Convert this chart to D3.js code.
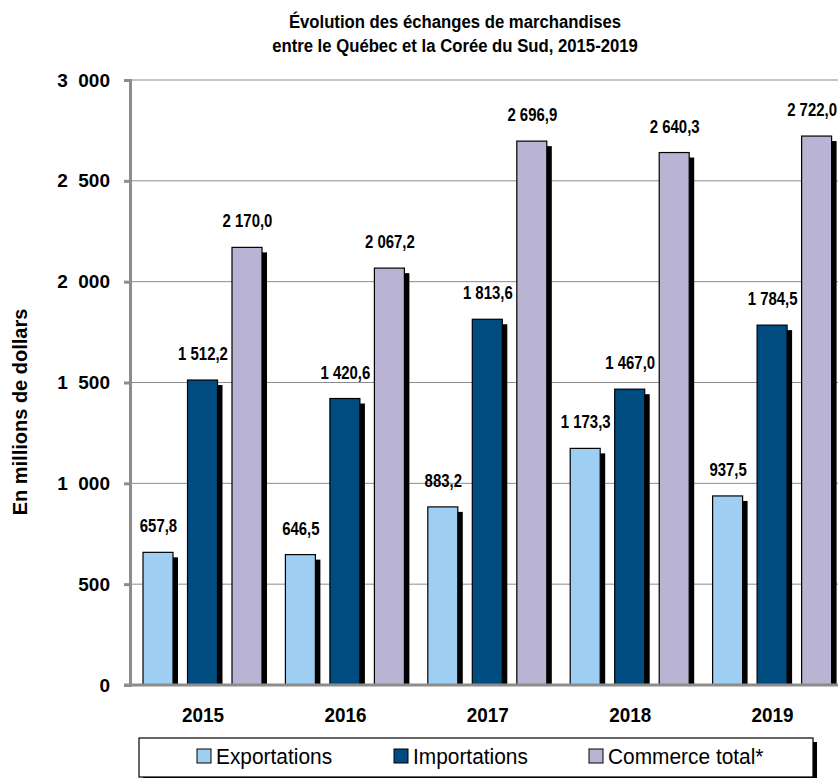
<!DOCTYPE html>
<html>
<head>
<meta charset="utf-8">
<script src="https://cdn.jsdelivr.net/npm/d3@7"></script>
<style>
  body { margin: 0; background: #fff; }
  svg text { font-family: "Liberation Sans", Arial, sans-serif; fill: #000; }
</style>
</head>
<body>
<svg id="chart" width="838" height="778"></svg>
<script>
var years = ['2015', '2016', '2017', '2018', '2019'];
var seriesNames = ['Exportations', 'Importations', 'Commerce total*'];
var exportations = [657.8, 646.5, 883.2, 1173.3, 937.5];
var importations = [1512.2, 1420.6, 1813.6, 1467.0, 1784.5];
var commerceTotal = [2170.0, 2067.2, 2696.9, 2640.3, 2722.0];
var yTicks = [0, 500, 1000, 1500, 2000, 2500, 3000];
var colors = ['#9ecff2', '#004b80', '#b9b3d4'];

(function(){
    var svg = d3.select('#chart'),
        width = +svg.attr('width'),
        left = 130, right = 842, top = 80, bottom = 685,
        labelScale = 0.83;

    var values = [exportations, importations, commerceTotal];

    var x = d3.scaleBand().domain(years).range([left, right]).paddingInner(0).paddingOuter(0);
    var inner = d3.scaleBand().domain(seriesNames).range([13, 132]).paddingInner(0.326).paddingOuter(0);
    var y = d3.scaleLinear().domain([0, 3000]).range([bottom, top]);

    var frNum = function(v, dec) {
        var s = d3.format(',.' + dec + 'f')(v);
        return s.replace(/,/g, '\u00a0').replace('.', ',');
    };

    // title
    var title = svg.append('g').attr('transform', 'translate(455,0) scale(0.88,1)');
    title.append('text').attr('x', 0).attr('y', 28).attr('text-anchor', 'middle')
        .style('font-size', '19px').style('font-weight', 'bold')
        .text('Évolution des échanges de marchandises');
    title.append('text').attr('x', 0).attr('y', 52).attr('text-anchor', 'middle')
        .style('font-size', '19px').style('font-weight', 'bold')
        .text('entre le Québec et la Corée du Sud, 2015-2019');

    // gridlines
    svg.append('g').selectAll('line')
        .data(yTicks.filter(function(d) { return d > 0; }))
        .enter().append('line')
        .attr('x1', left).attr('x2', right)
        .attr('y1', function(d) { return y(d); })
        .attr('y2', function(d) { return y(d); })
        .attr('stroke', '#8c8c8c').attr('stroke-width', 1);

    // y axis
    var yAxis = d3.axisLeft(y).tickValues(yTicks).tickSize(6).tickPadding(14)
        .tickFormat(function(d) { return d >= 1000 ? frNum(d, 0).replace('\u00a0', '\u00a0\u00a0') : d; });
    var ya = svg.append('g').attr('transform', 'translate(' + left + ',0)').call(yAxis);
    ya.select('.domain').attr('stroke', '#8c8c8c').attr('stroke-width', 3);
    ya.selectAll('.tick line').attr('stroke', '#8c8c8c').attr('stroke-width', 3);
    ya.selectAll('.tick text').style('font-size', '19px').style('font-weight', 'bold')
        .style('font-family', null).attr('fill', '#000');

    // bars
    var groups = svg.append('g').selectAll('g')
        .data(years)
        .enter().append('g')
        .attr('transform', function(d) { return 'translate(' + x(d) + ',0)'; });

    var bars = groups.selectAll('g')
        .data(function(d, i) {
            return seriesNames.map(function(s, j) { return { key: s, idx: j, value: values[j][i], x0: x(d) }; });
        })
        .enter().append('g');

    bars.append('rect')
        .attr('x', function(d) { return inner(d.key) + 5; })
        .attr('y', function(d) { return y(d.value) + 5; })
        .attr('width', inner.bandwidth())
        .attr('height', function(d) { return bottom - y(d.value) - 5; })
        .attr('fill', '#000');

    bars.append('rect')
        .attr('x', function(d) { return inner(d.key); })
        .attr('y', function(d) { return y(d.value); })
        .attr('width', inner.bandwidth())
        .attr('height', function(d) { return bottom - y(d.value); })
        .attr('fill', function(d) { return colors[d.idx]; })
        .attr('stroke', '#000').attr('stroke-width', 1.2);

    bars.append('text')
        .attr('text-anchor', 'middle')
        .style('font-size', '18px').style('font-weight', 'bold')
        .text(function(d) { return frNum(d.value, 1); })
        .attr('transform', function(d) {
            var cx = inner(d.key) + inner.bandwidth() / 2 + 0.5,
                half = this.getComputedTextLength() * labelScale / 2,
                over = d.x0 + cx + half - (width - 1);
            if (over > 0) cx -= over;
            return 'translate(' + cx + ',' + (y(d.value) - 20) + ') scale(' + labelScale + ',1)';
        });

    // x baseline
    svg.append('line').attr('x1', left - 6).attr('x2', right)
        .attr('y1', bottom).attr('y2', bottom)
        .attr('stroke', '#8c8c8c').attr('stroke-width', 3);

    // x labels
    svg.append('g').selectAll('text')
        .data(years)
        .enter().append('text')
        .attr('transform', function(d) { return 'translate(' + (x(d) + 73) + ',722) scale(0.9,1)'; })
        .attr('text-anchor', 'middle')
        .style('font-size', '21px').style('font-weight', 'bold')
        .text(function(d) { return d; });

    // y title
    svg.append('text')
        .attr('transform', 'translate(27,412) rotate(-90)')
        .attr('text-anchor', 'middle')
        .style('font-size', '20px').style('font-weight', 'bold')
        .text('En millions de dollars');

    // legend
    var legend = svg.append('g');
    legend.append('rect').attr('x', 143).attr('y', 742).attr('width', 674).attr('height', 40).attr('fill', '#000');
    legend.append('rect').attr('x', 139).attr('y', 738).attr('width', 674).attr('height', 39)
        .attr('fill', '#fff').attr('stroke', '#000').attr('stroke-width', 1.2);

    var legendX = [197, 394, 589];
    var items = legend.selectAll('g.item')
        .data(seriesNames)
        .enter().append('g')
        .attr('class', 'item')
        .attr('transform', function(d, i) { return 'translate(' + legendX[i] + ',756)'; });
    items.append('rect').attr('x', 0).attr('y', -7).attr('width', 14).attr('height', 14)
        .attr('fill', function(d, i) { return colors[i]; })
        .attr('stroke', '#000').attr('stroke-width', 1);
    items.append('text').attr('transform', 'translate(19,8) scale(0.95,1)')
        .style('font-size', '22px')
        .text(function(d) { return d; });
})();
</script>
</body>
</html>
